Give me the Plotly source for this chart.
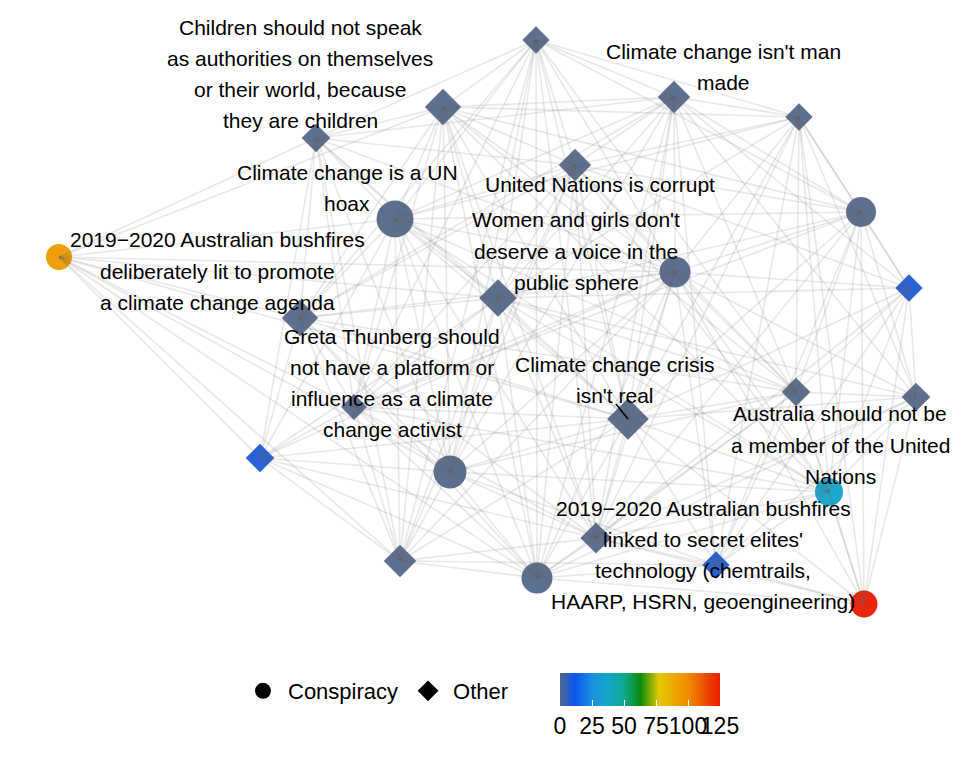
import plotly.graph_objects as go

# node layout (x to the right, y downwards), shape, size and colour value
node_x = [536, 443, 316, 674, 799, 575, 395, 861, 59, 909, 675, 498, 300,
          354, 796, 916, 628, 260, 450, 829, 596, 400, 716, 537, 864]
node_y = [40, 107, 138, 97, 117, 165, 219, 212, 257, 288, 272, 298, 318,
          407, 392, 397, 419, 458, 472, 492, 538, 561, 565, 578, 604]
node_type = ['Other', 'Other', 'Other', 'Other', 'Other', 'Other', 'Conspiracy',
             'Conspiracy', 'Conspiracy', 'Other', 'Conspiracy', 'Other', 'Other',
             'Other', 'Other', 'Other', 'Other', 'Other', 'Conspiracy',
             'Conspiracy', 'Other', 'Other', 'Other', 'Conspiracy', 'Conspiracy']
node_size = [21, 28, 22, 25, 21, 25, 37, 30, 26, 21, 31, 29, 28,
             20, 22, 22, 32, 22, 33, 28, 24, 25, 21, 31, 27]
node_value = [0, 0, 0, 0, 0, 0, 0, 0, 95, 8, 0, 0, 0,
              0, 0, 0, 0, 8, 0, 35, 0, 0, 8, 0, 125]

# edges: neighbours with a higher index
neighbours = {
    0: [1, 2, 3, 4, 5, 6, 7, 10, 11, 12, 13, 14, 16, 18, 20, 21, 23],
    1: [2, 3, 4, 5, 6, 7, 8, 10, 11, 12, 13, 14, 16, 18, 19, 20, 21, 23],
    2: [3, 5, 6, 8, 10, 11, 12, 13, 16, 17, 18, 21],
    3: [4, 5, 6, 7, 9, 10, 11, 12, 14, 15, 16, 18, 20, 22, 23],
    4: [5, 6, 7, 9, 10, 11, 14, 15, 16, 19, 20, 22, 24],
    5: [6, 7, 9, 10, 11, 12, 13, 14, 16, 18, 19, 20, 21, 23],
    6: [7, 8, 10, 11, 12, 13, 14, 16, 17, 18, 19, 20, 21, 23],
    7: [9, 10, 11, 13, 14, 15, 16, 19, 20, 22, 24],
    8: [10, 11, 12, 13, 16, 17, 18, 21, 23],
    9: [10, 11, 14, 15, 16, 19, 20, 22, 24],
    10: [11, 12, 13, 14, 15, 16, 17, 18, 19, 20, 21, 22, 23, 24],
    11: [12, 13, 14, 15, 16, 17, 18, 19, 20, 21, 23],
    12: [13, 14, 16, 17, 18, 20, 21, 23],
    13: [16, 17, 18, 19, 20, 21, 23],
    14: [15, 16, 18, 19, 20, 22, 23, 24],
    15: [16, 19, 20, 22, 23, 24],
    16: [17, 18, 19, 20, 21, 22, 23, 24],
    17: [18, 20, 21, 23],
    18: [19, 20, 21, 22, 23],
    19: [20, 22, 23, 24],
    20: [21, 22, 23, 24],
    21: [22, 23],
    22: [23, 24],
    23: [24],
}

# labels (centre of text block)
label_text = [
    ["Children should not speak", "as authorities on themselves",
     "or their world, because", "they are children"],
    ["Climate change isn't man", "made"],
    ["Climate change is a UN", "hoax"],
    ["United Nations is corrupt"],
    ["2019\u22122020 Australian bushfires", "deliberately lit to promote",
     "a climate change agenda"],
    ["Women and girls don't", "deserve a voice in the", "public sphere"],
    ["Greta Thunberg should", "not have a platform or",
     "influence as a climate", "change activist"],
    ["Climate change crisis", "isn't real"],
    ["Australia should not be", "a member of the United", "Nations"],
    ["2019\u22122020 Australian bushfires", "linked to secret elites'",
     "technology (chemtrails,", "HAARP, HSRN, geoengineering)"],
]
label_x = [300, 723, 347, 600, 217, 576, 392, 615, 840, 703]
label_y = [74, 67, 188, 184, 271, 251, 383, 380, 445, 555]

# repel segment from "Climate change crisis isn't real" to its node
seg_node = 16
seg_start = (616, 404)

line_gap = 31.3
font = "Liberation Sans, Arial, Helvetica, sans-serif"
scale = [[0, '#55688a'], [0.09, '#0a55f0'], [0.2, '#1a90e0'], [0.3, '#10a8c8'],
         [0.4, '#10a890'], [0.5, '#078a10'], [0.62, '#e6c800'], [0.8, '#f08c00'],
         [1, '#e81a00']]

fig = go.Figure()

for kind, symbol in [('Conspiracy', 'circle'), ('Other', 'diamond')]:
    idx = [i for i, t in enumerate(node_type) if t == kind]
    fig.add_trace(go.Scatter(
        x=[node_x[i] for i in idx], y=[node_y[i] for i in idx],
        mode='markers', showlegend=False, hoverinfo='skip',
        marker=dict(symbol=symbol, size=[node_size[i] for i in idx],
                    color=[node_value[i] for i in idx], coloraxis='coloraxis',
                    opacity=0.95, line=dict(width=0))))

for a, targets in neighbours.items():
    for b in targets:
        fig.add_trace(go.Scatter(
            x=[node_x[a], node_x[b]], y=[node_y[a], node_y[b]], mode='lines',
            line=dict(color='rgba(100,100,100,0.15)', width=1.6),
            showlegend=False, hoverinfo='skip'))

fig.add_trace(go.Scatter(
    x=[seg_start[0], node_x[seg_node]], y=[seg_start[1], node_y[seg_node]],
    mode='lines', line=dict(color='black', width=1.6),
    showlegend=False, hoverinfo='skip'))

# legend entries for shape
for kind, symbol in [('Conspiracy', 'circle'), ('Other', 'diamond')]:
    fig.add_trace(go.Scatter(
        x=[None], y=[None], mode='markers', name=kind,
        marker=dict(symbol=symbol, size=20, color='black')))

for lines, cx, cy in zip(label_text, label_x, label_y):
    n = len(lines)
    for k, txt in enumerate(lines):
        fig.add_annotation(
            x=cx, y=cy + (k - (n - 1) / 2) * line_gap, text=txt,
            showarrow=False, xanchor='center', yanchor='middle',
            font=dict(family=font, size=21, color='black'))

fig.update_layout(
    width=969, height=761,
    margin=dict(l=0, r=0, t=0, b=111),
    plot_bgcolor='white', paper_bgcolor='white',
    font=dict(family=font, color='black'),
    xaxis=dict(range=[0, 969], visible=False, fixedrange=True),
    yaxis=dict(range=[650, 0], visible=False, fixedrange=True),
    coloraxis=dict(
        colorscale=scale, cmin=0, cmax=125,
        colorbar=dict(
            orientation='h', x=640 / 969, xanchor='center',
            y=-23 / 650, yanchor='top', len=160 / 969, lenmode='fraction',
            thickness=33, xpad=0, ypad=0, outlinewidth=0,
            tickvals=[0, 25, 50, 75, 100, 125], ticks='inside', tickangle=0,
            tickcolor='white', ticklen=6, tickwidth=1,
            tickfont=dict(family=font, size=23, color='black'))),
    legend=dict(orientation='h', x=238 / 969, xanchor='left',
                y=-41 / 650, yanchor='middle', itemwidth=40,
                font=dict(family=font, size=22, color='black'),
                itemsizing='trace'),
)

fig.write_html("out.html", config={'displayModeBar': False},
               post_script="document.body.style.margin='0';")
